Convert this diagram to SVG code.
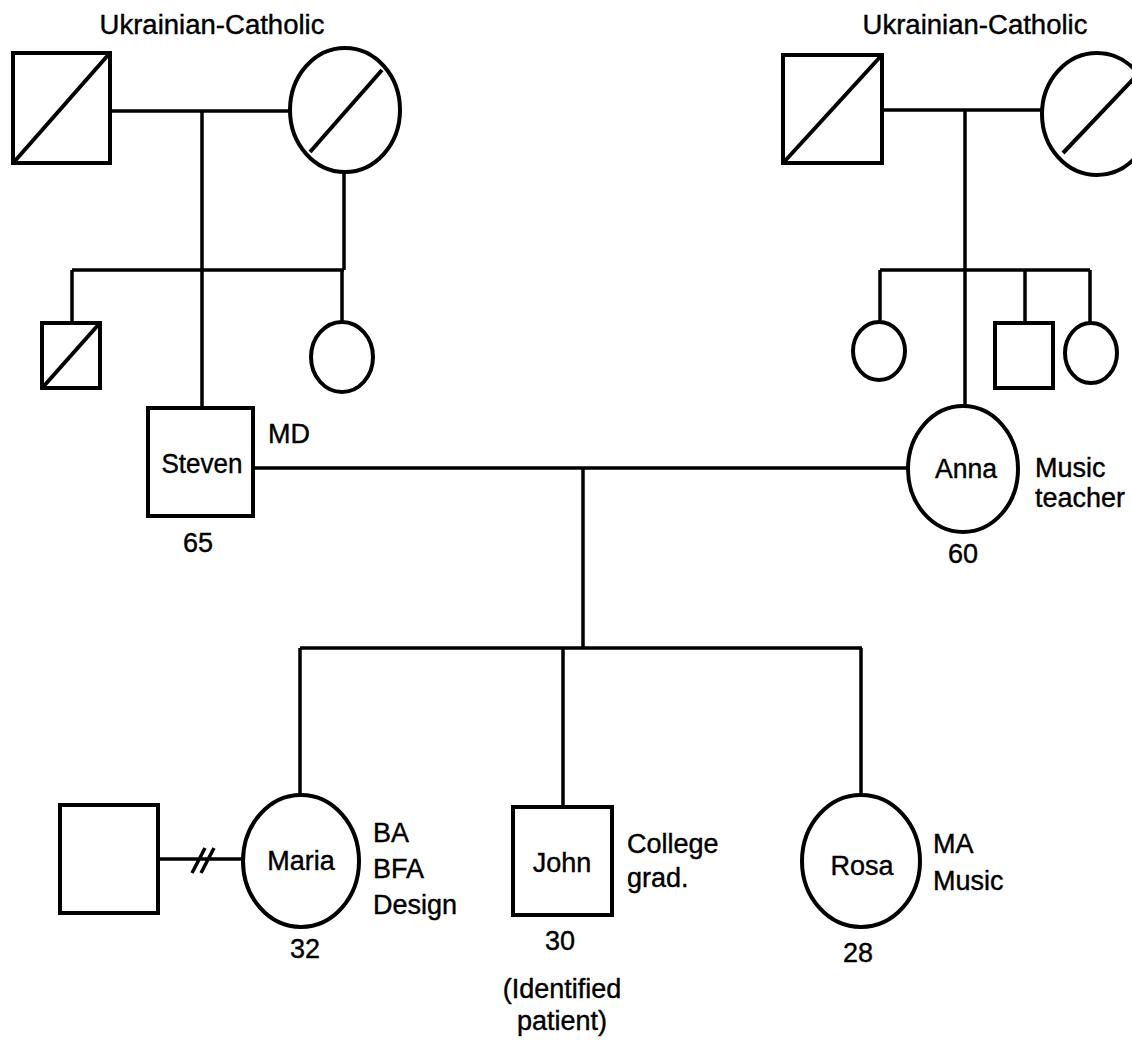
<svg xmlns="http://www.w3.org/2000/svg" width="1132" height="1040" viewBox="0 0 1132 1040">
<style>
.n{fill:none;stroke:#000;stroke-width:4}
.l{fill:none;stroke:#000;stroke-width:3.5}
text{font-family:"Liberation Sans",Arial,sans-serif;font-size:27px;fill:#000;stroke:#000;stroke-width:0.4}
.c{text-anchor:middle}
</style>
<rect width="1132" height="1040" fill="#fff" stroke="none"/>
<g id="connectors">
<path class="l" d="M110 111H290M202 111V408M344 172V270M72 270H344M72 270V323M342 270V322"/>
<path class="l" d="M882 110H1042M965 110V406M880 270H1090M880 270V322M1025 270V323M1090 270V323"/>
<path class="l" d="M253 468H908M583 468V648M300 648H862M300 648V795M563 648V807M861 648V795"/>
<path class="l" d="M158 859H243M192 873L205 848M201 873L214 848"/>
</g>
<g id="label-left-family"><text class="c" x="212" y="34" textLength="225" lengthAdjust="spacingAndGlyphs">Ukrainian-Catholic</text></g>
<g id="label-right-family"><text class="c" x="975" y="34" textLength="225" lengthAdjust="spacingAndGlyphs">Ukrainian-Catholic</text></g>
<g id="pgf-steven"><rect class="n" x="13" y="53" width="97" height="110"/><line class="n" x1="14" y1="162" x2="109" y2="54"/></g>
<g id="pgm-steven"><ellipse class="n" cx="345" cy="110" rx="55" ry="62"/><line class="n" x1="310" y1="152" x2="382" y2="70"/></g>
<g id="uncle-steven"><rect class="n" x="42" y="323" width="58" height="65"/><line class="n" x1="43" y1="387" x2="99" y2="324"/></g>
<g id="aunt-steven"><ellipse class="n" cx="342" cy="357" rx="31" ry="35"/></g>
<g id="steven"><rect class="n" x="148" y="408" width="105" height="108"/><text class="c" x="202" y="473" textLength="81" lengthAdjust="spacingAndGlyphs">Steven</text><text x="268" y="443">MD</text><text class="c" x="198" y="552">65</text></g>
<g id="pgf-anna"><rect class="n" x="783" y="55" width="99" height="108"/><line class="n" x1="784" y1="162" x2="881" y2="56"/></g>
<g id="pgm-anna"><ellipse class="n" cx="1097" cy="114" rx="55" ry="61"/><line class="n" x1="1063" y1="153" x2="1140" y2="72"/></g>
<g id="aunt1-anna"><ellipse class="n" cx="879" cy="351" rx="26" ry="29"/></g>
<g id="uncle-anna"><rect class="n" x="995" y="323" width="58" height="65"/></g>
<g id="aunt2-anna"><ellipse class="n" cx="1091" cy="353" rx="26" ry="30"/></g>
<g id="anna"><ellipse class="n" cx="963" cy="469" rx="55" ry="63"/><text class="c" x="966" y="478" textLength="62" lengthAdjust="spacingAndGlyphs">Anna</text><text x="1035" y="477">Music</text><text x="1035" y="507">teacher</text><text class="c" x="963" y="563">60</text></g>
<g id="ex-spouse"><rect class="n" x="60" y="805" width="98" height="108"/></g>
<g id="maria"><ellipse class="n" cx="301" cy="861" rx="58" ry="66"/><text class="c" x="301" y="870">Maria</text><text x="373" y="842">BA</text><text x="373" y="878">BFA</text><text x="373" y="914">Design</text><text class="c" x="305" y="958">32</text></g>
<g id="john"><rect class="n" x="513" y="807" width="99" height="108"/><text class="c" x="562" y="872">John</text><text x="627" y="853">College</text><text x="627" y="887">grad.</text><text class="c" x="560" y="950">30</text><text class="c" x="562" y="998">(Identified</text><text class="c" x="562" y="1030">patient)</text></g>
<g id="rosa"><ellipse class="n" cx="861" cy="861" rx="59" ry="66"/><text class="c" x="862" y="875">Rosa</text><text x="933" y="853">MA</text><text x="933" y="890">Music</text><text class="c" x="858" y="962">28</text></g>
</svg>
